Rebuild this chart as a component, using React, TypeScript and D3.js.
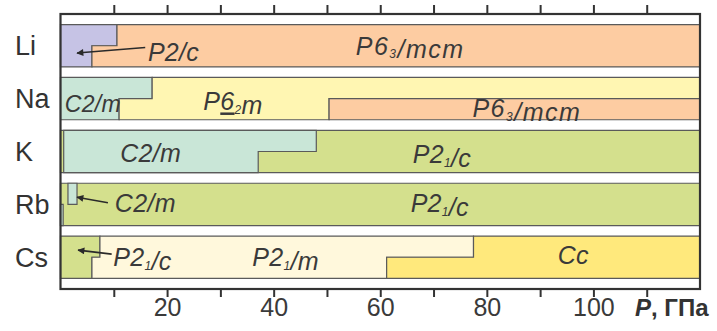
import React, { useEffect, useRef } from "react";
import * as d3 from "d3";

// ---- data ----
const elements = ["Li", "Na", "K", "Rb", "Cs"];
const pressureDomain = [0, 120];
const tickValues = [10, 20, 30, 40, 50, 60, 70, 80, 90, 100, 110];
const labeledTicks = [20, 40, 60, 80, 100];

const phaseColors: Record<string, string> = {
  "P2/c": "#c6c3e5",
  "P6_3/mcm": "#fdcca2",
  "C2/m": "#c9e6d7",
  "P~6_2m": "#fff6b2",
  "P2_1/c": "#d4e08d",
  "P2_1/m": "#fff8dc",
  Cc: "#ffe97c",
};

// regions: [top-half range], [bottom-half range] in GPa
const liRegions = [
  { phase: "P2/c", top: [0, 10.6], bottom: [0, 5.9] },
  { phase: "P6_3/mcm", top: [10.6, 120], bottom: [5.9, 120] },
];
const naRegions = [
  { phase: "C2/m", top: [0, 17.2], bottom: [0, 11.0] },
  { phase: "P~6_2m", top: [17.2, 120], bottom: [11.0, 50.4] },
  { phase: "P6_3/mcm", top: null, bottom: [50.4, 120] },
];
const kRegions = [
  { phase: "P2_1/c", top: [0, 120], bottom: [0, 120] },
  { phase: "C2/m", top: [0.6, 48.0], bottom: [0.6, 37.1] },
];
const rbRegions = [
  { phase: "P2_1/c", top: [0, 120], bottom: [0, 120] },
  { phase: "C2/m", top: [1.4, 3.1], bottom: null },
  { phase: "C2/m", top: null, bottom: [0, 0.5] },
];
const csRegions = [
  { phase: "P2_1/c", top: [0, 7.4], bottom: [0, 5.9] },
  { phase: "P2_1/m", top: [7.4, 77.5], bottom: [5.9, 61.2] },
  { phase: "Cc", top: [77.5, 120], bottom: [61.2, 120] },
];
const regionsByElement: Record<string, any[]> = {
  Li: liRegions,
  Na: naRegions,
  K: kRegions,
  Rb: rbRegions,
  Cs: csRegions,
};

// phase labels: element, text, start pressure, baseline offset in band
const phaseLabels = [
  { el: "Li", text: "P2/c", p: 16.4, off: 36 },
  { el: "Li", text: "P6_3/mcm", p: 55.4, off: 30 },
  { el: "Na", text: "C2/m", p: 0.8, off: 35 },
  { el: "Na", text: "P~6_2m", p: 26.8, off: 33 },
  { el: "Na", text: "P6_3/mcm", p: 77.3, off: 40 },
  { el: "K", text: "C2/m", p: 11.2, off: 32 },
  { el: "K", text: "P2_1/c", p: 66.1, off: 33 },
  { el: "Rb", text: "C2/m", p: 10.2, off: 29 },
  { el: "Rb", text: "P2_1/c", p: 65.7, off: 29 },
  { el: "Cs", text: "P2_1/c", p: 9.9, off: 30 },
  { el: "Cs", text: "P2_1/m", p: 36.0, off: 30 },
  { el: "Cs", text: "Cc", p: 93.3, off: 28 },
];

// arrows: from (p0, off0) to tip (p1, off1)
const arrows = [
  { el: "Li", p0: 15.9, off0: 23, p1: 3.1, off1: 28.5 },
  { el: "Rb", p0: 8.9, off0: 19.5, p1: 3.1, off1: 14 },
  { el: "Cs", p0: 9.6, off0: 18, p1: 3.3, off1: 14 },
];

const W = 717;
const H = 331;
const margin = { left: 60.5, right: 17, top: 14, bottom: 42 };

function renderLabel(text: string) {
  const parts: any[] = [];
  let i = 0;
  let key = 0;
  let buf = "";
  const flush = () => {
    if (buf) {
      parts.push(<tspan key={key++}>{buf}</tspan>);
      buf = "";
    }
  };
  while (i < text.length) {
    const c = text[i];
    if (c === "_") {
      flush();
      parts.push(
        <tspan key={key++} fontSize={12} dy={3.5}>
          {text[i + 1]}
        </tspan>
      );
      parts.push(<tspan key={key++} dy={-3.5}>{""}</tspan>);
      i += 2;
    } else if (c === "~") {
      flush();
      parts.push(
        <tspan key={key++} style={{ textDecoration: "underline" }}>
          {text[i + 1]}
        </tspan>
      );
      i += 2;
    } else {
      buf += c;
      i++;
    }
  }
  flush();
  return parts;
}

export default function App() {
  const bottomRef = useRef<SVGGElement>(null);
  const topRef = useRef<SVGGElement>(null);

  const x = d3.scaleLinear().domain(pressureDomain).range([margin.left, W - margin.right]);
  const y = d3
    .scaleBand()
    .domain(elements)
    .range([margin.top, H - margin.bottom])
    .paddingInner(0.2)
    .paddingOuter(0.2);

  const plotTop = margin.top;
  const plotBottom = H - margin.bottom;

  useEffect(() => {
    const b = d3.select(bottomRef.current);
    b.selectAll("*").remove();
    b.call(
      d3
        .axisBottom(x)
        .tickValues(tickValues)
        .tickSizeInner(8)
        .tickSizeOuter(0)
        .tickFormat((d: any) => (labeledTicks.includes(d) ? String(d) : ""))
    );
    b.select(".domain").remove();
    b.selectAll(".tick line").attr("stroke", "#333").attr("stroke-width", 2);
    b.selectAll(".tick text")
      .attr("y", 27)
      .attr("dy", 0)
      .attr("fill", "#3a3a3a")
      .attr("font-size", 25)
      .attr("font-family", "'Liberation Sans', Arial, sans-serif");

    const t = d3.select(topRef.current);
    t.selectAll("*").remove();
    t.call(d3.axisTop(x).tickValues(tickValues).tickSizeInner(9).tickSizeOuter(0).tickFormat(() => ""));
    t.select(".domain").remove();
    t.selectAll(".tick line").attr("stroke", "#333").attr("stroke-width", 2);
  }, []);

  const bw = y.bandwidth();

  const regionPath = (r: any, y0: number) => {
    const ym = y0 + bw / 2;
    const y1 = y0 + bw;
    const path = d3.path();
    if (r.top && r.bottom) {
      const [t0, t1] = r.top.map(x);
      const [b0, b1] = r.bottom.map(x);
      path.moveTo(t0, y0);
      path.lineTo(t1, y0);
      path.lineTo(t1, ym);
      path.lineTo(b1, ym);
      path.lineTo(b1, y1);
      path.lineTo(b0, y1);
      path.lineTo(b0, ym);
      path.lineTo(t0, ym);
      path.closePath();
    } else if (r.top) {
      const [t0, t1] = r.top.map(x);
      path.rect(t0, y0, t1 - t0, ym - y0);
    } else if (r.bottom) {
      const [b0, b1] = r.bottom.map(x);
      path.rect(b0, ym, b1 - b0, y1 - ym);
    }
    return path.toString();
  };

  const font = "'Liberation Sans', Arial, Helvetica, sans-serif";

  return (
    <svg
      width={W}
      height={H}
      style={{ position: "absolute", left: 0, top: 0, background: "#fff" }}
      fontFamily={font}
    >
      <defs>
        <marker
          id="arrowhead"
          viewBox="0 0 10 10"
          refX={9}
          refY={5}
          markerWidth={9}
          markerHeight={7}
          markerUnits="userSpaceOnUse"
          orient="auto"
        >
          <path d="M0,0 L10,5 L0,10 z" fill="#2a2a2a" />
        </marker>
      </defs>

      {elements.map((el) => {
        const y0 = y(el)!;
        return (
          <g key={el}>
            {regionsByElement[el].map((r, i) => (
              <path
                key={i}
                d={regionPath(r, y0)}
                fill={phaseColors[r.phase]}
                stroke="#5a5a5a"
                strokeWidth={1.2}
                strokeLinejoin="miter"
              />
            ))}
            <text x={15} y={y0 + bw / 2 + 9.5} fontSize={27} fill="#333">
              {el}
            </text>
          </g>
        );
      })}

      {phaseLabels.map((l, i) => {
        const wide = l.text.includes("mcm");
        const compact = l.el === "Na" && l.text === "C2/m";
        return (
          <text
            key={i}
            x={x(l.p)}
            y={y(l.el)! + l.off}
            fontSize={compact ? 23 : 25}
            letterSpacing={wide ? 1.5 : 0.3}
            fontStyle="italic"
            fill="#3a3a3a"
          >
            {renderLabel(l.text)}
          </text>
        );
      })}

      {arrows.map((a, i) => (
        <line
          key={i}
          x1={x(a.p0)}
          y1={y(a.el)! + a.off0}
          x2={x(a.p1)}
          y2={y(a.el)! + a.off1}
          stroke="#2a2a2a"
          strokeWidth={1.6}
          markerEnd="url(#arrowhead)"
        />
      ))}

      <rect
        x={x(0)}
        y={plotTop}
        width={x(120) - x(0)}
        height={plotBottom - plotTop}
        fill="none"
        stroke="#333"
        strokeWidth={2.2}
      />
      <g ref={topRef} transform={`translate(0,${plotTop})`} />
      <g ref={bottomRef} transform={`translate(0,${plotBottom})`} />

      <text x={635} y={316} fontSize={24} fontWeight="bold" fill="#333">
        <tspan fontStyle="italic">P</tspan>
        <tspan>, ГПа</tspan>
      </text>
    </svg>
  );
}
